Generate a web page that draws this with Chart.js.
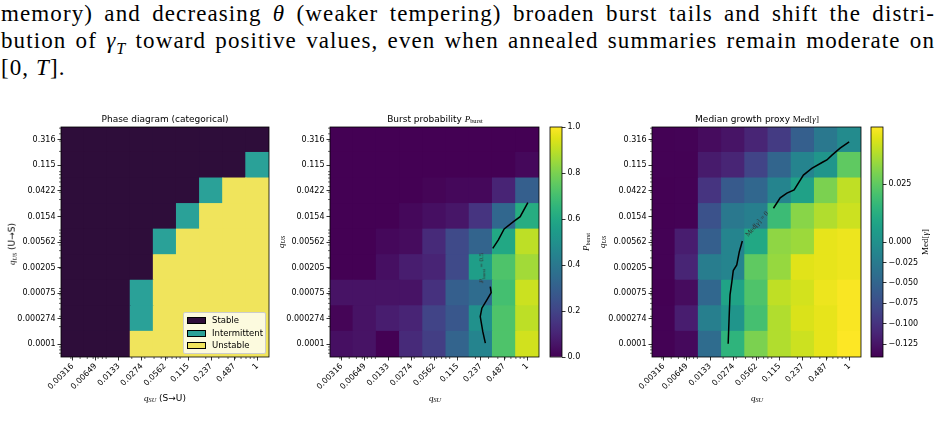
<!DOCTYPE html>
<html>
<head>
<meta charset="utf-8">
<script src="https://cdn.jsdelivr.net/npm/chart.js@4.4.0/dist/chart.umd.min.js"></script>
<style>
  body { margin: 0; width: 936px; height: 428px; background: #fff; position: relative; overflow: hidden;
         font-family: "DejaVu Sans", sans-serif; color: #000; }
  canvas { position: absolute; }
  .para { position: absolute; left: 1px; width: 934px; font-family: "Liberation Serif", serif;
          font-size: 23px; letter-spacing: 1.1px; line-height: 27px; white-space: nowrap; }
  .just { text-align: justify; text-align-last: justify; white-space: normal; }
  .t { position: absolute; white-space: nowrap; transform: translate(-50%, -50%); font-size: 9px; }
  .r { transform: translate(-50%, -50%) rotate(-90deg); }
  .m { font-family: "Liberation Serif", serif; }
  .m sub { font-size: 70%; vertical-align: -0.25em; }
  .legend { position: absolute; left: 183px; top: 312px; width: 81px; height: 40px; background: rgba(255,255,255,0.8);
            border: 1px solid #ccc; border-radius: 2px; font-size: 8.5px; }
  .legend div { position: absolute; left: 3px; height: 12px; line-height: 12px; }
  .legend span.p { display: inline-block; width: 17px; height: 5px; border: 1px solid #000; vertical-align: middle; margin-right: 6px; }
  .clab { position: absolute; white-space: nowrap; font-family: "Liberation Serif", serif; font-size: 7px; color: #333; }
</style>
</head>
<body>

<div class="para just" style="top:0px">memory) and decreasing <i>θ</i> (weaker tempering) broaden burst tails and shift the distri-</div>
<div class="para just" style="top:27px">bution of <i>γ</i><sub style="font-size:70%"><i>T</i></sub> toward positive values, even when annealed summaries remain moderate on</div>
<div class="para" style="top:54px">[0, <i>T</i>].</div>

<canvas id="phase" width="275" height="315" style="left:0px;top:105px"></canvas>
<canvas id="burst" width="275" height="315" style="left:270px;top:105px"></canvas>
<canvas id="burstBar" width="50" height="315" style="left:545px;top:105px"></canvas>
<canvas id="med" width="277" height="315" style="left:590px;top:105px"></canvas>
<canvas id="medBar" width="60" height="315" style="left:866px;top:105px"></canvas>

<div class="t" style="left:165px;top:119px">Phase diagram (categorical)</div>
<div class="t" style="left:435px;top:119px">Burst probability <span class="m"><i>P</i><sub>burst</sub></span></div>
<div class="t" style="left:757px;top:119px">Median growth proxy <span class="m">Med[<i>γ</i>]</span></div>

<div class="t" style="left:165px;top:398px"><span class="m"><i>q</i><sub><i>SU</i></sub></span> (S→U)</div>
<div class="t" style="left:435px;top:398px"><span class="m"><i>q</i><sub><i>SU</i></sub></span></div>
<div class="t" style="left:757px;top:398px"><span class="m"><i>q</i><sub><i>SU</i></sub></span></div>

<div class="t r" style="left:12px;top:244px"><span class="m"><i>q</i><sub><i>US</i></sub></span> (U→S)</div>
<div class="t r" style="left:281px;top:242px"><span class="m"><i>q</i><sub><i>US</i></sub></span></div>
<div class="t r" style="left:602px;top:242px"><span class="m"><i>q</i><sub><i>US</i></sub></span></div>
<div class="t r" style="left:586px;top:242px"><span class="m"><i>P</i><sub>burst</sub></span></div>
<div class="t r" style="left:925px;top:242px"><span class="m">Med[<i>γ</i>]</span></div>

<div class="clab" style="left:482px;top:268px;transform:translate(-50%,-50%) rotate(-90deg)"><i>P</i><sub style="font-size:70%">burst</sub> = 0.5</div>
<div class="clab" style="left:757px;top:224px;transform:translate(-50%,-50%) rotate(-49deg)">Med[<i>γ</i>] = 0</div>

<div class="legend" id="legend"></div>

<script>
  // tick labels (cells are laid out by index, 0 = first label)
  var xLabels = ['0.00316', '0.00649', '0.0133', '0.0274', '0.0562', '0.115', '0.237', '0.487', '1'];
  var yLabels = ['0.316', '0.115', '0.0422', '0.0154', '0.00562', '0.00205', '0.00075', '0.000274', '0.0001'];

  // phase classes: 0 stable, 1 intermittent, 2 unstable (rows top -> bottom)
  var phaseNames = ['Stable', 'Intermittent', 'Unstable'];
  var phaseGrid = [
    [0, 0, 0, 0, 0, 0, 0, 0, 0],
    [0, 0, 0, 0, 0, 0, 0, 0, 1],
    [0, 0, 0, 0, 0, 0, 1, 2, 2],
    [0, 0, 0, 0, 0, 1, 2, 2, 2],
    [0, 0, 0, 0, 1, 2, 2, 2, 2],
    [0, 0, 0, 0, 2, 2, 2, 2, 2],
    [0, 0, 0, 1, 2, 2, 2, 2, 2],
    [0, 0, 0, 1, 2, 2, 2, 2, 2],
    [0, 0, 0, 2, 2, 2, 2, 2, 2]
  ];

  var burstGrid = [
    [0.00, 0.00, 0.00, 0.00, 0.00, 0.00, 0.00, 0.00, 0.00],
    [0.00, 0.00, 0.00, 0.00, 0.00, 0.00, 0.00, 0.00, 0.02],
    [0.00, 0.00, 0.00, 0.00, 0.01, 0.02, 0.02, 0.10, 0.30],
    [0.00, 0.00, 0.00, 0.02, 0.04, 0.06, 0.15, 0.33, 0.62],
    [0.00, 0.00, 0.02, 0.03, 0.12, 0.22, 0.32, 0.60, 0.90],
    [0.00, 0.00, 0.04, 0.08, 0.10, 0.22, 0.56, 0.72, 0.86],
    [0.05, 0.05, 0.05, 0.05, 0.14, 0.30, 0.35, 0.70, 0.92],
    [0.01, 0.05, 0.08, 0.10, 0.20, 0.27, 0.50, 0.72, 0.90],
    [0.04, 0.05, 0.00, 0.12, 0.18, 0.32, 0.45, 0.72, 0.93]
  ];

  var medGrid = [
    [-0.140, -0.139, -0.132, -0.126, -0.112, -0.092, -0.056, -0.028, -0.006],
    [-0.140, -0.140, -0.120, -0.112, -0.084, -0.050, -0.014,  0.002,  0.025],
    [-0.141, -0.140, -0.098, -0.062, -0.048, -0.014,  0.007,  0.030,  0.040],
    [-0.141, -0.140, -0.070, -0.028, -0.020,  0.018,  0.032,  0.038,  0.042],
    [-0.140, -0.118, -0.056, -0.014,  0.010,  0.033,  0.035,  0.046,  0.047],
    [-0.140, -0.112, -0.022, -0.014,  0.025,  0.034,  0.045,  0.046,  0.047],
    [-0.141, -0.132, -0.048,  0.008,  0.022,  0.040,  0.043,  0.047,  0.049],
    [-0.140, -0.118, -0.020,  0.002,  0.020,  0.038,  0.044,  0.046,  0.049],
    [-0.140, -0.134, -0.042,  0.015,  0.030,  0.038,  0.042,  0.046,  0.050]
  ];
  var medMin = -0.1406, medMax = 0.0497;   // two-slope norm, centre 0
  var medBarTicks = [0.025, 0, -0.025, -0.05, -0.075, -0.1, -0.125];

  // contour lines in cell-index units [col, row]
  var burstContourA = [[8.02, 2.46], [7.69, 3.01], [7.40, 3.20], [7.00, 3.49], [6.75, 3.92], [6.51, 4.25]];
  var burstContourB = [[6.40, 5.75], [6.44, 5.98], [6.25, 6.27], [6.04, 6.59], [5.97, 6.92], [6.08, 7.51], [6.19, 7.96]];
  var medContourA = [[7.99, 0.08], [7.60, 0.33], [7.25, 0.60], [7.03, 0.79], [6.88, 0.86], [6.38, 1.12], [6.02, 1.38],
                     [5.62, 1.96], [5.31, 2.09], [5.02, 2.27], [4.73, 2.68]];
  var medContourB = [[3.39, 3.96], [3.26, 4.38], [3.15, 4.90], [3.00, 5.12], [2.94, 5.55], [2.86, 6.07], [2.82, 6.98], [2.78, 7.98]];

  var phaseColors = ['#2e0d3a', '#2aa198', '#f0e45c'];
  var viridis = ['#440154', '#471365', '#482475', '#463480', '#414487', '#3b528b', '#355f8d', '#2f6c8e', '#2a788e',
                 '#25848e', '#21918c', '#1e9c89', '#22a884', '#2fb47c', '#44bf70', '#5ec962', '#7ad151', '#9bd93c',
                 '#bddf26', '#dfe318', '#fde725'];

  function hex(c) { return [1, 3, 5].map(function (i) { return parseInt(c.substr(i, 2), 16); }); }
  function cmap(t) {
    t = Math.max(0, Math.min(1, t));
    var p = t * (viridis.length - 1), i = Math.min(Math.floor(p), viridis.length - 2), f = p - i;
    var a = hex(viridis[i]), b = hex(viridis[i + 1]);
    return 'rgb(' + a.map(function (v, k) { return Math.round(v + (b[k] - v) * f); }).join(',') + ')';
  }
  function medNorm(v) { return v < 0 ? 0.5 * (1 - v / medMin) : 0.5 + 0.5 * v / medMax; }

  // minor log ticks + full frame
  var frame = {
    id: 'frame',
    afterDraw: function (chart) {
      var a = chart.chartArea, ctx = chart.ctx, o = chart.options.plugins.frame || {};
      ctx.save();
      ctx.strokeStyle = '#000';
      if (o.minor) {
        var xs = chart.scales.x, ys = chart.scales.y;
        ctx.lineWidth = 0.6;
        for (var d = -5; d <= 0; d++) {
          for (var k = 2; k <= 9; k++) {
            var lv = Math.log10(k) + d;
            var xi = (lv + 2.5) / 0.3125, yi = (-0.5 - lv) / 0.4375;
            ctx.beginPath();
            if (xi > -0.5 && xi < 8.5) {
              var px = xs.getPixelForValue(xi);
              ctx.moveTo(px, a.bottom); ctx.lineTo(px, a.bottom + 2);
            }
            if (yi > -0.5 && yi < 8.5) {
              var py = ys.getPixelForValue(yi);
              ctx.moveTo(a.left, py); ctx.lineTo(a.left - 2, py);
            }
            ctx.stroke();
          }
        }
      }
      ctx.lineWidth = 0.8;
      ctx.strokeRect(a.left, a.top, a.right - a.left, a.bottom - a.top);
      ctx.restore();
    }
  };

  var tickFont = { family: 'DejaVu Sans', size: 8 };

  function heatmap(id, grid, colorOf, yWidth, lines) {
    var cells = [], colors = [];
    grid.forEach(function (row, r) {
      row.forEach(function (v, c) {
        cells.push({ x: c, y: [r - 0.5, r + 0.5] });
        colors.push(colorOf(v));
      });
    });
    var datasets = [{
      type: 'bar', data: cells, backgroundColor: colors, borderWidth: 0, inflateAmount: 0.6,
      barPercentage: 1, categoryPercentage: 1, grouped: false, order: 2
    }];
    lines.forEach(function (l) {
      datasets.push({
        type: 'line', data: l.map(function (p) { return { x: p[0], y: p[1] }; }),
        borderColor: '#000', borderWidth: 1.5, pointRadius: 0, tension: 0, order: 1
      });
    });
    return new Chart(document.getElementById(id), {
      type: 'bar',
      data: { datasets: datasets },
      plugins: [frame],
      options: {
        responsive: false,
        animation: false,
        layout: { padding: { top: 22, right: 6, left: 0, bottom: 0 } },
        plugins: { legend: { display: false }, tooltip: { enabled: false }, frame: { minor: true } },
        scales: {
          x: {
            type: 'linear', min: -0.5, max: 8.5, offset: false,
            afterBuildTicks: function (s) { s.ticks = xLabels.map(function (_, i) { return { value: i }; }); },
            afterFit: function (s) { s.height = 63; },
            ticks: { autoSkip: false, minRotation: 45, maxRotation: 45, font: tickFont, color: '#000', padding: 1,
                     callback: function (v) { return xLabels[Math.round(v)]; } },
            grid: { drawOnChartArea: false, tickLength: 3.5, tickColor: '#000', tickWidth: 0.8, offset: false },
            border: { display: false }
          },
          y: {
            type: 'linear', reverse: true, min: -0.5, max: 8.5,
            afterBuildTicks: function (s) { s.ticks = yLabels.map(function (_, i) { return { value: i }; }); },
            afterFit: function (s) { s.width = yWidth; },
            ticks: { autoSkip: false, font: tickFont, color: '#000', padding: 2,
                     callback: function (v) { return yLabels[Math.round(v)]; } },
            grid: { drawOnChartArea: false, tickLength: 3.5, tickColor: '#000', tickWidth: 0.8 },
            border: { display: false }
          }
        }
      }
    });
  }

  function colorbar(id, yWidth, yOpts) {
    var y = Object.assign({
      type: 'linear', position: 'right', min: 0, max: 1,
      afterFit: function (s) { s.width = yWidth; },
      grid: { drawOnChartArea: false, tickLength: 3.5, tickColor: '#000', tickWidth: 0.8 },
      border: { display: false }
    }, yOpts);
    return new Chart(document.getElementById(id), {
      type: 'bar',
      data: {
        labels: [''],
        datasets: [{
          data: [[0, 1]], barPercentage: 1, categoryPercentage: 1, borderWidth: 0,
          backgroundColor: function (ctx) {
            var a = ctx.chart.chartArea;
            if (!a) return null;
            var g = ctx.chart.ctx.createLinearGradient(0, a.bottom, 0, a.top);
            viridis.forEach(function (c, i) { g.addColorStop(i / (viridis.length - 1), c); });
            return g;
          }
        }]
      },
      plugins: [frame],
      options: {
        responsive: false,
        animation: false,
        layout: { padding: { top: 22, left: 5, right: 0, bottom: 63 } },
        plugins: { legend: { display: false }, tooltip: { enabled: false } },
        scales: { x: { display: false }, y: y }
      }
    });
  }

  heatmap('phase', phaseGrid, function (v) { return phaseColors[v]; }, 61, []);
  heatmap('burst', burstGrid, cmap, 60, [burstContourA, burstContourB]);
  heatmap('med', medGrid, function (v) { return cmap(medNorm(v)); }, 62, [medContourA, medContourB]);

  colorbar('burstBar', 33, {
    ticks: { stepSize: 0.2, font: tickFont, color: '#000', padding: 2,
             callback: function (v) { return v.toFixed(1); } }
  });
  colorbar('medBar', 43, {
    afterBuildTicks: function (s) { s.ticks = medBarTicks.map(function (v) { return { value: medNorm(v) }; }); },
    ticks: { font: tickFont, color: '#000', padding: 2,
             callback: function (v, i) {
               var t = medBarTicks[i];
               return (t < 0 ? '\u2212' : '') + Math.abs(t).toFixed(3);
             } }
  });

  // legend box for the phase panel
  var legend = document.getElementById('legend');
  phaseNames.forEach(function (name, i) {
    var row = document.createElement('div');
    row.style.top = (1 + i * 12.7) + 'px';
    row.innerHTML = '<span class="p" style="background:' + phaseColors[i] + '"></span>' + name;
    legend.appendChild(row);
  });
</script>
</body>
</html>
